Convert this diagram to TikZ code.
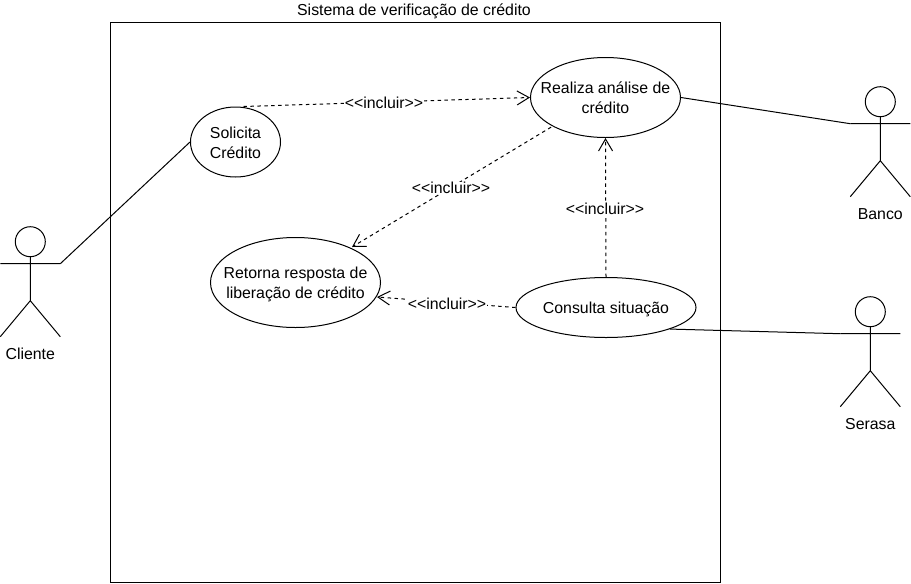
\documentclass[tikz,border=0pt]{standalone}
\usepackage{fontspec}
\setmainfont{Liberation Sans}
\usetikzlibrary{arrows.meta,shapes.geometric}
\tikzset{
 usecase/.style={draw=black,ellipse,line width=0.75pt,inner sep=0pt,font=\fontsize{11.9}{15}\selectfont},
 incl/.style={draw=black,dash pattern=on 2.6pt off 2.6pt,line width=0.75pt,-{Straight Barb[length=9pt,width=10.5pt,line width=0.75pt]}},
 lbl/.style={font=\fontsize{11.9}{15}\selectfont,fill=white,inner sep=0.5pt},
 assoc/.style={draw=black,line width=0.75pt},
 actorlbl/.style={font=\fontsize{11.9}{15}\selectfont,inner sep=0pt},
 stick/.style={draw=black,line width=0.75pt}
}
\newcommand{\uctext}[1]{\makebox[0pt][c]{\smash{\raisebox{-4.5pt}{\begin{tabular}[c]{@{}c@{}}#1\end{tabular}}}}}
\newcommand{\stickman}[2]{% cx, topY (pixels)
 \draw[stick] (#1,#2+15) circle [radius=15];
 \draw[stick] (#1,#2+30) -- (#1,#2+74) (#1-30,#2+37) -- (#1+30,#2+37)
   (#1,#2+74) -- (#1-30,#2+110) (#1,#2+74) -- (#1+30,#2+110);
}
\begin{document}
\begin{tikzpicture}[x=0.75pt,y=-0.75pt]
\useasboundingbox (0,0) rectangle (911,583);
\node[draw=black,line width=0.75pt,minimum width=457.5pt,minimum height=420pt,anchor=north west,inner sep=0pt] (sys) at (110,22) {};
\node[font=\fontsize{11.9}{15}\selectfont,inner sep=0pt] (title) at (414,11.5) {Sistema de verificação de crédito};
\node[usecase,minimum width=67.5pt,minimum height=52.5pt] (solicita) at (235.5,142) {\uctext{Solicita\\Crédito}};
\node[usecase,minimum width=112.5pt,minimum height=60pt] (realiza) at (605.5,97.5) {\uctext{Realiza análise de\\crédito}};
\node[usecase,minimum width=127.5pt,minimum height=67.5pt] (retorna) at (295.5,282.5) {\uctext{Retorna resposta de\\liberação de crédito}};
\node[usecase,minimum width=135pt,minimum height=45pt] (consulta) at (606,307.5) {\uctext{Consulta situação}};
\stickman{30.3}{226.7}
\stickman{880.3}{86.7}
\stickman{870.3}{296.7}
\coordinate (cliente) at (60.3,263.7);
\coordinate (banco) at (850.3,123.7);
\coordinate (serasa) at (840.3,333.7);
\node[actorlbl] (clientet) at (30.3,354) {Cliente};
\node[actorlbl] (bancot) at (880.3,214) {Banco};
\node[actorlbl] (serasat) at (870.3,424) {Serasa};
\draw[assoc] (cliente) -- (solicita.west);
\draw[assoc] (realiza.east) -- (banco);
\draw[assoc] (consulta.south east) -- (serasa);
\draw[incl] (solicita.north) ++(8,0) -- (realiza.west);
\draw[incl] (realiza.south west) ++(-1,1) -- (352,247);
\draw[incl] (consulta.north) -- (realiza.south);
\draw[incl] (consulta.west) -- (377,297);
\node[lbl] at (384,103) {<{}<incluir>{}>};
\node[lbl] at (451,188) {<{}<incluir>{}>};
\node[lbl] at (605,208.5) {<{}<incluir>{}>};
\node[lbl] at (447,304) {<{}<incluir>{}>};
\end{tikzpicture}
\end{document}
